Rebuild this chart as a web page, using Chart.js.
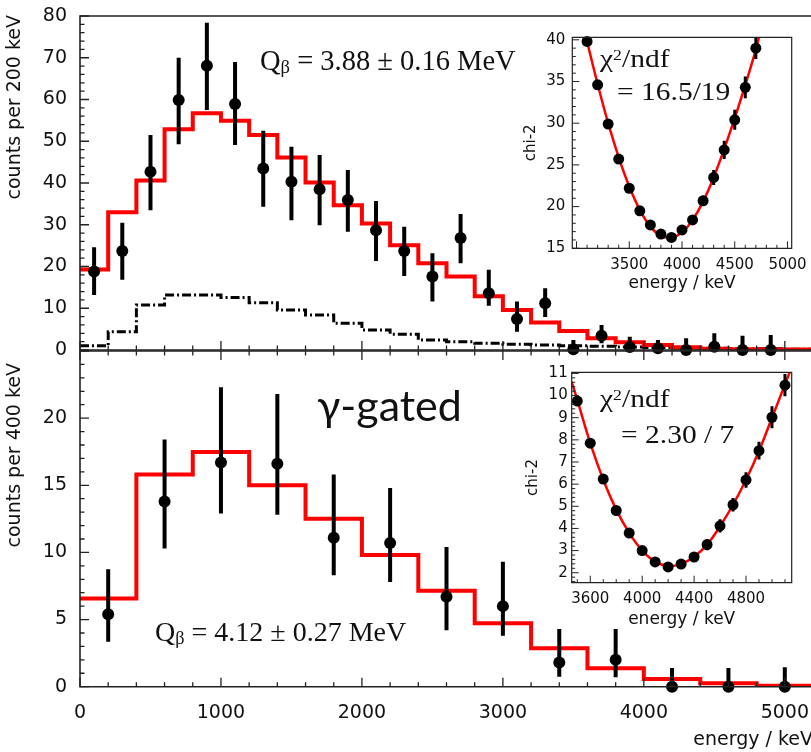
<!DOCTYPE html>
<html>
<head>
<meta charset="utf-8">
<script src="https://cdn.jsdelivr.net/npm/chart.js@4.4.0/dist/chart.umd.min.js"></script>
<style>
  body { margin: 0; background: #fff; }
  #wrap { position: relative; width: 811px; height: 752px; overflow: hidden; background: #fff; }
  canvas { position: absolute; }
  .note { position: absolute; white-space: nowrap; color: #111; line-height: 1; }
  .serif { font-family: "Liberation Serif", "Times New Roman", serif; }
  .sub { position: relative; font-size: 0.65em; top: 0.15em; }
  .sup { position: relative; font-size: 0.6em; top: -0.5em; }
  .stretch { transform: scaleX(1.18); transform-origin: 0 0; }
  .ytitle { font-family: "DejaVu Sans", sans-serif; font-size: 19px; width: 192px; text-align: right;
            left: 0; top: 0; transform-origin: 0 0; }
</style>
</head>
<body>
<div id="wrap">
  <canvas id="top-chart" width="840" height="362" style="left:0;top:0"></canvas>
  <canvas id="bottom-chart" width="840" height="412" style="left:0;top:340px"></canvas>
  <canvas id="top-inset" width="291" height="275" style="left:520px;top:20px"></canvas>
  <canvas id="bottom-inset" width="291" height="270" style="left:520px;top:360px"></canvas>

  <div class="note ytitle" style="transform: translate(4px, 207px) rotate(-90deg)">counts per 200 keV</div>
  <div class="note ytitle" style="transform: translate(4px, 555px) rotate(-90deg)">counts per 400 keV</div>

  <div class="note serif" style="left:260px;top:47px;font-size:28.5px">Q<span class="sub">β</span> = 3.88 ± 0.16 MeV</div>
  <div class="note serif" style="left:155px;top:618px;font-size:28px">Q<span class="sub">β</span> = 4.12 ± 0.27 MeV</div>
  <div class="note" style="left:317px;top:383px;font-size:43px;font-family:Lato, sans-serif">γ-gated</div>

  <div class="note serif stretch" style="left:600px;top:46px;font-size:25px">χ<span class="sup">2</span>/ndf</div>
  <div class="note serif stretch" style="left:617px;top:79px;font-size:25px">= 16.5/19</div>
  <div class="note serif stretch" style="left:600px;top:386px;font-size:25px">χ<span class="sup">2</span>/ndf</div>
  <div class="note serif stretch" style="left:621px;top:422px;font-size:25px">= 2.30 / 7</div>
</div>
<script>
// ---- all events, 200 keV bins ----
const topCentres = [100, 300, 500, 700, 900, 1100, 1300, 1500, 1700, 1900, 2100, 2300, 2500,
                    2700, 2900, 3100, 3300, 3500, 3700, 3900, 4100, 4300, 4500, 4700, 4900];
const topCounts = [18.8, 23.7, 42.7, 59.9, 68.1, 58.9, 43.5, 40.3, 38.5, 35.9, 28.7, 23.7, 17.6,
                   26.8, 13.6, 7.4, 11.2, 0.2, 3.4, 0.7, 0.4, 0, 0.8, 0, 0];
const topErrLow = [13.2, 16.8, 33.5, 49.3, 57.5, 49.1, 34.3, 31.1, 29.9, 28.3, 21.3, 17.7, 11.6,
                   20.8, 10.6, 4.4, 7.9, 0, 1.6, 0, 0, 0, 0, 0, 0];
const topErrHigh = [24.6, 30.5, 51.5, 70.0, 78.4, 69.0, 52.5, 48.7, 46.7, 43.1, 35.7, 29.5, 23.2,
                    32.6, 19.2, 11.6, 14.8, 2.4, 6.0, 3.2, 2.4, 2.8, 4.0, 3.4, 3.6];
const topEdges = [0, 200, 400, 600, 800, 1000, 1200, 1400, 1600, 1800, 2000, 2200, 2400, 2600,
                  2800, 3000, 3200, 3400, 3600, 3800, 4000, 4200, 4400, 4600, 4800, 5000, 5200];
const topFit = [19.3, 33.0, 40.6, 52.9, 56.7, 54.9, 51.5, 46.1, 40.1, 34.7, 30.3, 25.1, 20.8,
                17.6, 12.9, 9.6, 6.6, 4.55, 2.8, 1.84, 1.2, 0.64, 0.3, 0.2, 0.1, 0.1];
const topBackground = [1.0, 4.4, 10.8, 13.2, 13.2, 12.6, 11.3, 9.6, 8.4, 6.4, 4.8, 3.8, 2.4,
                       2.0, 1.6, 1.4, 1.2, 1.0, 0.9, 0.7, 0.6, 0.5, 0.4, 0.3, 0.3, 0.2];

// ---- gamma-gated, 400 keV bins ----
const bottomCentres = [200, 600, 1000, 1400, 1800, 2200, 2600, 3000, 3400, 3800, 4200, 4600, 5000];
const bottomCounts = [5.4, 13.8, 16.7, 16.6, 11.1, 10.7, 6.7, 6.0, 1.8, 2.0, 0, 0, 0];
const bottomErrLow = [3.35, 10.3, 12.9, 12.8, 8.3, 7.8, 4.2, 3.8, 0.75, 0.7, 0, 0, 0];
const bottomErrHigh = [8.75, 18.4, 22.3, 21.8, 15.8, 14.8, 10.4, 9.3, 4.3, 4.3, 1.4, 1.4, 1.45];
const bottomEdges = [0, 400, 800, 1200, 1600, 2000, 2400, 2800, 3200, 3600, 4000, 4400, 4800, 5200];
const bottomFit = [6.56, 15.8, 17.47, 15.0, 12.5, 9.8, 7.15, 4.72, 2.86, 1.37, 0.57, 0.25, 0.07];

// ---- chi-2 scans ----
const scanTopEnergy = [3100, 3200, 3300, 3400, 3500, 3600, 3700, 3800, 3900, 4000, 4100, 4200,
                       4300, 4400, 4500, 4600, 4700];
const scanTopChi2 = [39.8, 34.6, 29.9, 25.7, 22.2, 19.5, 17.8, 16.7, 16.3, 17.2, 18.4, 20.7,
                     23.5, 26.8, 30.4, 34.3, 39.0];
const scanTopErr = [0.3, 0.3, 0.3, 0.3, 0.3, 0.3, 0.3, 0.3, 0.3, 0.4, 0.5, 0.6, 0.9, 1.1, 1.2, 1.3, 1.3];
const curveTopEnergy = [3090, 3200, 3300, 3400, 3500, 3600, 3700, 3800, 3900, 4000, 4100, 4200,
                        4300, 4400, 4500, 4600, 4700, 4730];
const curveTopChi2 = [40.3, 34.7, 30.0, 25.9, 22.4, 19.6, 17.6, 16.5, 16.3, 16.9, 18.4, 20.6,
                      23.5, 26.9, 30.6, 34.6, 38.8, 40.3];

const scanBottomEnergy = [3500, 3600, 3700, 3800, 3900, 4000, 4100, 4200, 4300, 4400, 4500, 4600,
                          4700, 4800, 4900, 5000, 5100];
const scanBottomChi2 = [9.75, 7.85, 6.23, 4.81, 3.79, 3.0, 2.49, 2.26, 2.39, 2.71, 3.27, 4.12,
                        5.07, 6.19, 7.51, 9.02, 10.47];
const scanBottomErr = [0.1, 0.1, 0.1, 0.1, 0.1, 0.1, 0.1, 0.1, 0.15, 0.2, 0.25, 0.3, 0.3, 0.35, 0.4, 0.5, 0.5];
const curveBottomEnergy = [3457, 3500, 3600, 3700, 3800, 3900, 4000, 4100, 4200, 4300, 4400, 4500,
                           4600, 4700, 4800, 4900, 5000, 5100, 5140];
const curveBottomChi2 = [10.62, 9.8, 7.85, 6.2, 4.85, 3.8, 3.0, 2.5, 2.3, 2.4, 2.72, 3.27,
                         4.1, 5.07, 6.2, 7.5, 9.0, 10.5, 11.1];

// ---- labelled tick values ----
const mainEnergyTicks = [0, 1000, 2000, 3000, 4000, 5000];
const topInsetEnergyTicks = [3500, 4000, 4500, 5000];
const bottomInsetEnergyTicks = [3600, 4000, 4400, 4800];

Chart.defaults.font.family = '"DejaVu Sans", sans-serif';
Chart.defaults.color = '#111';
Chart.defaults.animation = false;
Chart.defaults.events = [];
Chart.defaults.plugins.legend.display = false;
Chart.defaults.plugins.tooltip.enabled = false;

const toPoints = (xs, ys) => xs.map((x, i) => ({ x, y: ys[i] }));
// histogram: one point per left bin edge, plus the closing right edge
const toSteps = (edges, values) =>
    values.map((v, i) => ({ x: edges[i], y: v })).concat([{ x: edges[edges.length - 1], y: values[values.length - 1] }]);
const symErr = (ys, errs, sign) => ys.map((y, i) => y + sign * errs[i]);

const noGrid = { display: false, drawTicks: false };
const plainLabel = v => String(v);
const useTicks = (values) => (scale) => { scale.ticks = values.map(v => ({ value: v })); };

// pin axis sizes so the plot frames land where the original ones are
const fixedSize = (w, h) => (scale) => {
    if (w !== undefined) scale.width = w;
    if (h !== undefined) scale.height = h;
    scale.paddingLeft = scale.paddingRight = scale.paddingTop = scale.paddingBottom = 0;
};

// vertical error bars, drawn from the dataset's own y scale
const errorBars = {
    id: 'errorBars',
    afterDatasetsDraw(chart) {
        const ctx = chart.ctx;
        chart.data.datasets.forEach((ds, di) => {
            if (!ds.errLow) return;
            const meta = chart.getDatasetMeta(di);
            const yScale = chart.scales[meta.yAxisID];
            ctx.save();
            ctx.strokeStyle = '#000';
            ctx.lineWidth = ds.errWidth || 3;
            ctx.beginPath();
            meta.data.forEach((pt, i) => {
                ctx.moveTo(pt.x, yScale.getPixelForValue(ds.errLow[i]));
                ctx.lineTo(pt.x, yScale.getPixelForValue(ds.errHigh[i]));
            });
            ctx.stroke();
            ctx.restore();
        });
    }
};
Chart.register(errorBars);

// ROOT-like frame with inward major/minor ticks
const frame = (spec) => ({
    id: 'frame',
    beforeDatasetsDraw(chart) {
        if (!spec.fill) return;
        const a = chart.chartArea;
        chart.ctx.save();
        chart.ctx.fillStyle = '#fff';
        chart.ctx.fillRect(a.left, a.top, a.right - a.left, a.bottom - a.top);
        chart.ctx.restore();
    },
    afterDraw(chart) {
        const { ctx, chartArea: a, scales } = chart;
        ctx.save();
        ctx.strokeStyle = '#222';
        ctx.lineWidth = spec.lineWidth;
        ctx.lineCap = 'square';
        ctx.beginPath();
        spec.sides.forEach(side => {
            if (side === 'left') { ctx.moveTo(a.left, a.top); ctx.lineTo(a.left, a.bottom); }
            if (side === 'right') { ctx.moveTo(a.right, a.top); ctx.lineTo(a.right, a.bottom); }
            if (side === 'top') { ctx.moveTo(a.left, a.top); ctx.lineTo(a.right, a.top); }
            if (side === 'bottom') { ctx.moveTo(a.left, a.bottom); ctx.lineTo(a.right, a.bottom); }
        });
        ctx.stroke();
        ctx.lineCap = 'butt';
        ctx.lineWidth = spec.tickWidth;
        ctx.beginPath();
        spec.ticks.forEach(t => {
            const sc = scales[t.axis];
            const n0 = Math.ceil(sc.min / t.minor - 1e-6);
            const n1 = Math.floor(sc.max / t.minor + 1e-6);
            const perMajor = Math.round(t.major / t.minor);
            for (let n = n0; n <= n1; n++) {
                const len = n % perMajor === 0 ? t.majorLen : t.minorLen;
                const p = sc.getPixelForValue(n * t.minor);
                if (t.edge === 'left') { ctx.moveTo(a.left, p); ctx.lineTo(a.left + len, p); }
                if (t.edge === 'bottom') { ctx.moveTo(p, a.bottom); ctx.lineTo(p, a.bottom - len); }
                if (t.edge === 'top') { ctx.moveTo(p, a.top); ctx.lineTo(p, a.top + len); }
            }
        });
        ctx.stroke();
        ctx.restore();
    }
});

const pointSet = (xs, ys, lo, hi, radius, errWidth) => ({
    data: toPoints(xs, ys), errLow: lo, errHigh: hi, errWidth,
    showLine: false, pointRadius: radius, pointBackgroundColor: '#000',
    pointBorderWidth: 0, borderWidth: 0, clip: false
});

const stepSet = (edges, values, color, width, dash) => ({
    data: toSteps(edges, values), stepped: true, borderColor: color, borderWidth: width,
    borderDash: dash || [], borderJoinStyle: 'miter', pointRadius: 0, fill: false
});

// top panel: all events
new Chart(document.getElementById('top-chart'), {
    type: 'line',
    data: {
        datasets: [
            pointSet(topCentres, topCounts, topErrLow, topErrHigh, 6, 4),
            stepSet(topEdges, topFit, '#ff0000', 4),
            stepSet(topEdges, topBackground, '#000', 3, [9, 3, 2, 3])
        ]
    },
    options: {
        responsive: false,
        devicePixelRatio: 1,
        layout: { padding: { top: 16, right: 27, left: 0, bottom: 0 } },
        scales: {
            x: {
                type: 'linear', min: 0, max: 5200,
                ticks: { display: false }, grid: noGrid, border: { display: false },
                afterFit: fixedSize(undefined, 12)
            },
            y: {
                min: 0, max: 80,
                ticks: { stepSize: 10, padding: 13, font: { size: 19 } },
                grid: noGrid, border: { display: false },
                afterFit: fixedSize(80)
            }
        }
    },
    plugins: [frame({
        lineWidth: 1.6, tickWidth: 1.3, sides: ['left', 'top', 'bottom'],
        ticks: [
            { axis: 'y', edge: 'left', major: 10, minor: 2, majorLen: 9, minorLen: 4.5 },
            { axis: 'x', edge: 'bottom', major: 1000, minor: 200, majorLen: 9, minorLen: 4.5 }
        ]
    })]
});

// bottom panel: gamma-gated
new Chart(document.getElementById('bottom-chart'), {
    type: 'line',
    data: {
        datasets: [
            pointSet(bottomCentres, bottomCounts, bottomErrLow, bottomErrHigh, 6, 4),
            stepSet(bottomEdges, bottomFit, '#ff0000', 4)
        ]
    },
    options: {
        responsive: false,
        devicePixelRatio: 1,
        layout: { padding: { top: 11, right: 27, left: 0, bottom: 0 } },
        scales: {
            x: {
                type: 'linear', min: 0, max: 5200,
                afterBuildTicks: useTicks(mainEnergyTicks),
                ticks: { autoSkip: false, maxRotation: 0, padding: 15, font: { size: 19 }, callback: plainLabel },
                grid: noGrid, border: { display: false },
                title: { display: true, text: 'energy / keV', align: 'end', font: { size: 19 }, padding: { top: 0, bottom: 1 } },
                afterFit: fixedSize(undefined, 65.3)
            },
            y: {
                min: 0, max: 25,
                ticks: { stepSize: 5, padding: 13, font: { size: 19 }, callback: v => (v === 25 ? '' : v) },
                grid: noGrid, border: { display: false },
                afterFit: fixedSize(80)
            }
        }
    },
    plugins: [frame({
        lineWidth: 1.6, tickWidth: 1.3, sides: ['left', 'top', 'bottom'],
        ticks: [
            { axis: 'y', edge: 'left', major: 5, minor: 1, majorLen: 9, minorLen: 4.5 },
            { axis: 'x', edge: 'bottom', major: 1000, minor: 200, majorLen: 9, minorLen: 4.5 },
            { axis: 'x', edge: 'top', major: 1000, minor: 200, majorLen: 9, minorLen: 4.5 }
        ]
    })]
});

const insetChart = (id, cfg) => new Chart(document.getElementById(id), {
    type: 'line',
    data: {
        datasets: [
            pointSet(cfg.energy, cfg.chi2, symErr(cfg.chi2, cfg.err, -1), symErr(cfg.chi2, cfg.err, 1), 5.5, 3),
            {
                data: toPoints(cfg.curveEnergy, cfg.curveChi2), borderColor: '#ff0000', borderWidth: 2.5,
                tension: 0.4, pointRadius: 0, fill: false
            }
        ]
    },
    options: {
        responsive: false,
        devicePixelRatio: 1,
        layout: { padding: { top: cfg.top, right: cfg.right, left: 0, bottom: 0 } },
        scales: {
            x: {
                type: 'linear', min: cfg.xMin, max: cfg.xMax,
                afterBuildTicks: useTicks(cfg.xTicks),
                ticks: { autoSkip: false, maxRotation: 0, padding: cfg.xPad, font: { size: 15 }, callback: plainLabel },
                grid: noGrid, border: { display: false },
                title: { display: true, text: 'energy / keV', font: { size: 17 }, padding: { top: 0, bottom: cfg.xTitlePad } },
                afterFit: fixedSize(undefined, cfg.xHeight)
            },
            y: {
                min: cfg.yMin, max: cfg.yMax,
                ticks: { stepSize: cfg.yStep, includeBounds: false, padding: cfg.yPad, font: { size: 15 } },
                grid: noGrid, border: { display: false },
                title: { display: true, text: 'chi-2', font: { size: 15 }, padding: { top: cfg.yTitlePad } },
                afterFit: fixedSize(cfg.yWidth)
            }
        }
    },
    plugins: [frame({
        fill: true, lineWidth: 1.2, tickWidth: 1, sides: ['left', 'top', 'bottom', 'right'],
        ticks: [
            { axis: 'y', edge: 'left', major: cfg.yStep, minor: cfg.yMinor, majorLen: 7, minorLen: 3.5 },
            { axis: 'x', edge: 'bottom', major: cfg.xMajor, minor: 100, majorLen: 7, minorLen: 3.5 }
        ]
    })]
});

insetChart('top-inset', {
    energy: scanTopEnergy, chi2: scanTopChi2, err: scanTopErr,
    curveEnergy: curveTopEnergy, curveChi2: curveTopChi2, xTicks: topInsetEnergyTicks,
    xMin: 2960, xMax: 5040, xMajor: 500, yMin: 15, yMax: 40.3, yStep: 5, yMinor: 1,
    top: 17.3, right: 19.3, xHeight: 46.7, yWidth: 52.3,
    xPad: 8, xTitlePad: 1, yPad: 7, yTitlePad: 2.5
});

insetChart('bottom-inset', {
    energy: scanBottomEnergy, chi2: scanBottomChi2, err: scanBottomErr,
    curveEnergy: curveBottomEnergy, curveChi2: curveBottomChi2, xTicks: bottomInsetEnergyTicks,
    xMin: 3457, xMax: 5152, xMajor: 400, yMin: 1.55, yMax: 11.05, yStep: 1, yMinor: 0.2,
    top: 12.3, right: 19.3, xHeight: 47.3, yWidth: 51.7,
    xPad: 7, xTitlePad: 0, yPad: 4, yTitlePad: 4
});
</script>
</body>
</html>
